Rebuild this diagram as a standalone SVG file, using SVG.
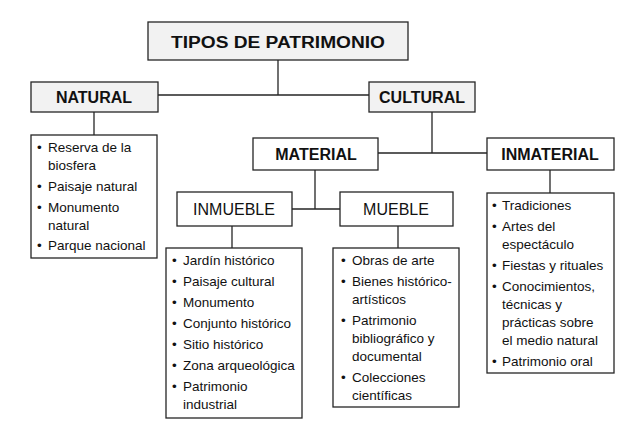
<svg xmlns="http://www.w3.org/2000/svg" width="640" height="443" viewBox="0 0 640 443">
<style>
.box{fill:#ffffff;stroke:#262626;stroke-width:1.3}
.gray{fill:#f2f2f2}
.h{font-family:"Liberation Sans",Arial,sans-serif;font-weight:bold;font-size:16px;fill:#111;text-anchor:middle}
.hr{font-family:"Liberation Sans",Arial,sans-serif;font-size:16px;fill:#111;text-anchor:middle}
.t{font-family:"Liberation Sans",Arial,sans-serif;font-size:13.5px;fill:#111}
.c{stroke:#262626;stroke-width:1.3;fill:none}
</style>
<rect width="640" height="443" fill="#ffffff"/>
<g id="connectors">
<path class="c" d="M278 60V95M158 95H369"/>
<path class="c" d="M94 112V135"/>
<path class="c" d="M432 112V153M378 153H487"/>
<path class="c" d="M315 170V209M292 209H340"/>
<path class="c" d="M550 170V193"/>
<path class="c" d="M232 226V248"/>
<path class="c" d="M398 226V248"/>
</g>
<g id="tipos">
<rect class="box gray" x="148" y="22" width="260" height="38"/>
<text class="h" x="278" y="48" font-size="19" textLength="214" lengthAdjust="spacingAndGlyphs">TIPOS DE PATRIMONIO</text>
</g>
<g id="natural">
<rect class="box gray" x="31" y="82" width="127" height="30"/>
<text class="h" x="94" y="103">NATURAL</text>
</g>
<g id="cultural">
<rect class="box gray" x="369" y="82" width="106" height="30"/>
<text class="h" x="422" y="103">CULTURAL</text>
</g>
<g id="natural-list">
<rect class="box" x="31" y="135" width="126" height="123"/>
<g class="t">
<text x="37" y="152">•</text><text x="48" y="152">Reserva de la</text>
<text x="48" y="170">biosfera</text>
<text x="37" y="191">•</text><text x="48" y="191">Paisaje natural</text>
<text x="37" y="212">•</text><text x="48" y="212">Monumento</text>
<text x="48" y="230">natural</text>
<text x="37" y="250">•</text><text x="48" y="250">Parque nacional</text>
</g>
</g>
<g id="material">
<rect class="box" x="253" y="138" width="125" height="32"/>
<text class="h" x="316" y="160">MATERIAL</text>
</g>
<g id="inmaterial">
<rect class="box" x="487" y="138" width="127" height="32"/>
<text class="h" x="550" y="160">INMATERIAL</text>
</g>
<g id="inmueble">
<rect class="box" x="177" y="192" width="115" height="34"/>
<text class="hr" x="234" y="215">INMUEBLE</text>
</g>
<g id="mueble">
<rect class="box" x="340" y="192" width="113" height="34"/>
<text class="hr" x="396" y="215">MUEBLE</text>
</g>
<g id="inmueble-list">
<rect class="box" x="166" y="248" width="136" height="170"/>
<g class="t">
<text x="172" y="265">•</text><text x="183" y="265">Jardín histórico</text>
<text x="172" y="286">•</text><text x="183" y="286">Paisaje cultural</text>
<text x="172" y="307">•</text><text x="183" y="307">Monumento</text>
<text x="172" y="328">•</text><text x="183" y="328">Conjunto histórico</text>
<text x="172" y="349">•</text><text x="183" y="349">Sitio histórico</text>
<text x="172" y="370">•</text><text x="183" y="370">Zona arqueológica</text>
<text x="172" y="391">•</text><text x="183" y="391">Patrimonio</text>
<text x="183" y="409">industrial</text>
</g>
</g>
<g id="mueble-list">
<rect class="box" x="333" y="248" width="126" height="159"/>
<g class="t">
<text x="341" y="265">•</text><text x="352" y="265">Obras de arte</text>
<text x="341" y="286">•</text><text x="352" y="286">Bienes histórico-</text>
<text x="352" y="304">artísticos</text>
<text x="341" y="325">•</text><text x="352" y="325">Patrimonio</text>
<text x="352" y="343">bibliográfico y</text>
<text x="352" y="361">documental</text>
<text x="341" y="382">•</text><text x="352" y="382">Colecciones</text>
<text x="352" y="400">científicas</text>
</g>
</g>
<g id="inmaterial-list">
<rect class="box" x="487" y="193" width="127" height="180"/>
<g class="t">
<text x="492" y="210">•</text><text x="502" y="210">Tradiciones</text>
<text x="492" y="231">•</text><text x="502" y="231">Artes del</text>
<text x="502" y="249">espectáculo</text>
<text x="492" y="270">•</text><text x="502" y="270">Fiestas y rituales</text>
<text x="492" y="291">•</text><text x="502" y="291">Conocimientos,</text>
<text x="502" y="309">técnicas y</text>
<text x="502" y="327">prácticas sobre</text>
<text x="502" y="345">el medio natural</text>
<text x="492" y="366">•</text><text x="502" y="366">Patrimonio oral</text>
</g>
</g>
</svg>
